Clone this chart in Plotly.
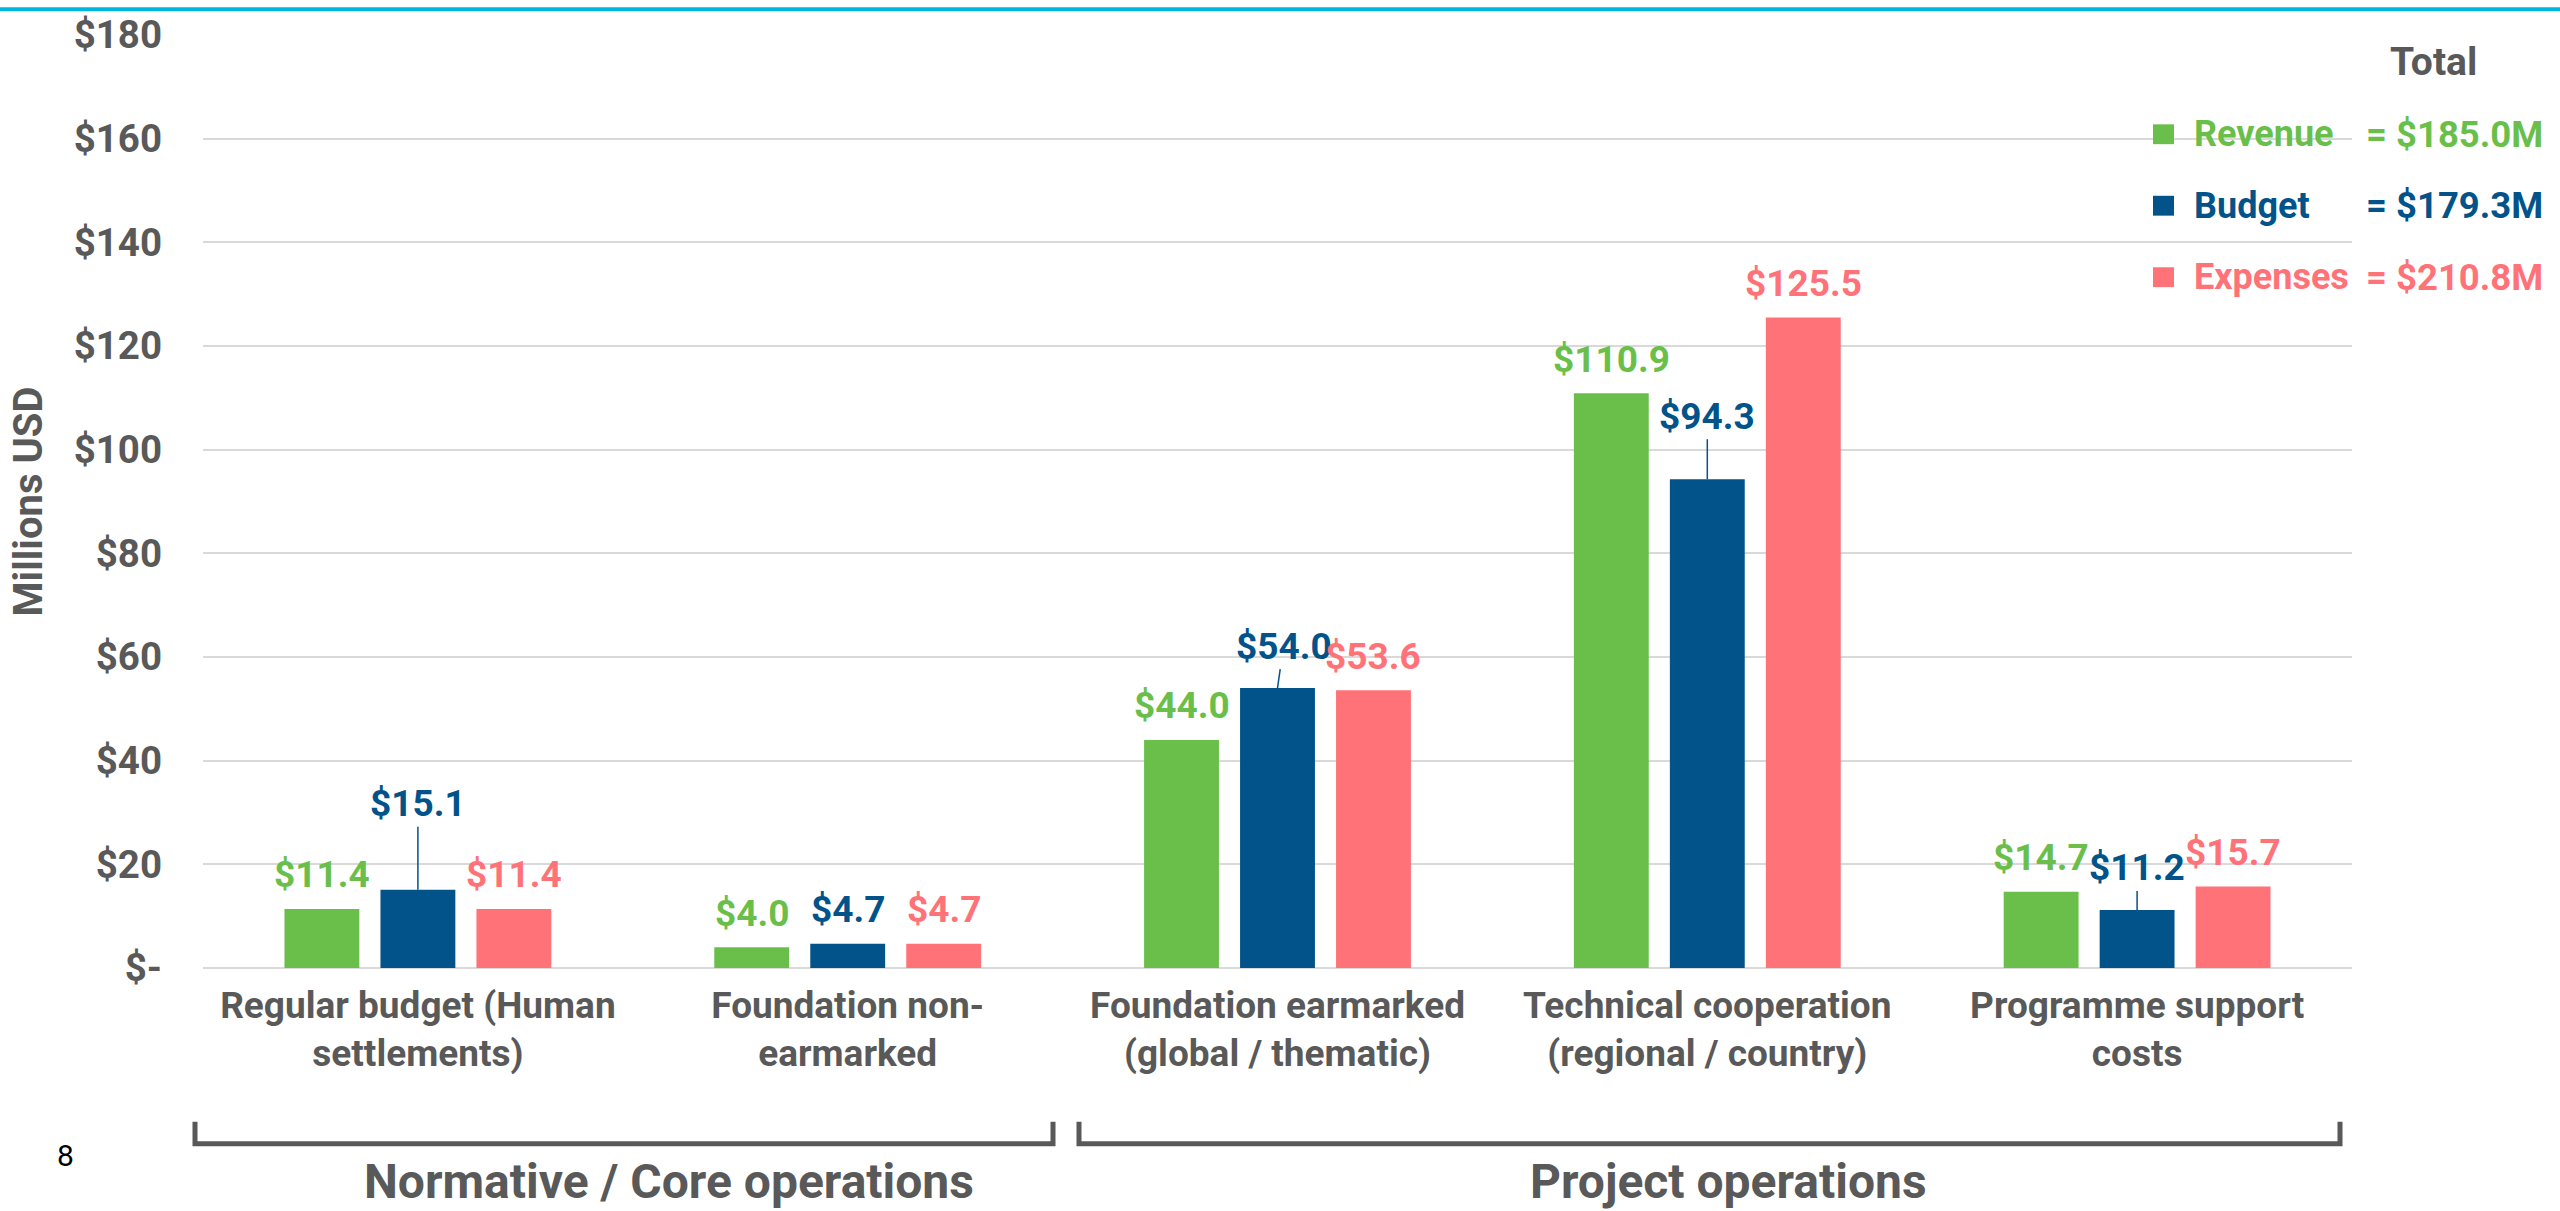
import plotly.graph_objects as go

categories = [
    "Regular budget (Human<br>settlements)",
    "Foundation non-<br>earmarked",
    "Foundation earmarked<br>(global / thematic)",
    "Technical cooperation<br>(regional / country)",
    "Programme support<br>costs",
]
revenue = [11.4, 4.0, 44.0, 110.9, 14.7]
budget = [15.1, 4.7, 54.0, 94.3, 11.2]
expenses = [11.4, 4.7, 53.6, 125.5, 15.7]

series_names = ["Revenue", "Budget", "Expenses"]
series_totals = ["= $185.0M", "= $179.3M", "= $210.8M"]
group_names = ["Normative / Core operations", "Project operations"]

tick_vals = [0, 20, 40, 60, 80, 100, 120, 140, 160, 180]
tick_text = ["$-", "$20", "$40", "$60", "$80", "$100", "$120", "$140", "$160", "$180"]

GREEN = "#6ABF4B"
BLUE = "#02538A"
RED = "#FF7278"
GREY = "#595959"
COLORS = [GREEN, BLUE, RED]
FONT = "Roboto"

W, H = 2560, 1211
L, R, T, B = 203, 2352, 28, 968
BARGAP = 0.33


def px(x):
    return (x - L) / (R - L)


def py(y):
    return (B - y) / (B - T)


fig = go.Figure()
all_values = [revenue, budget, expenses]
for name, values, color in zip(series_names, all_values, COLORS):
    fig.add_trace(go.Bar(x=categories, y=values, name=name, marker={"color": color, "line": {"width": 0}}))

# value labels; budget labels sit higher with a leader line on some bars
leader_lift = [-86, 0, -42, -63, -42]
leader_dx = [0, 0, 6, 0, 0]
slot = (1 - BARGAP) / 3
annotations = []
for j, (values, color) in enumerate(zip(all_values, COLORS)):
    for i, v in enumerate(values):
        xpos = i + (j - 1) * slot
        label = f"${v:.1f}"
        if j == 1 and leader_lift[i] != 0:
            annotations.append(dict(
                x=xpos, y=v, xref="x", yref="y", text=label, showarrow=True,
                arrowhead=0, arrowwidth=1.5, arrowcolor=color, standoff=0,
                ax=leader_dx[i], ay=leader_lift[i],
                font={"family": FONT, "size": 37, "color": color, "weight": 700},
            ))
        else:
            annotations.append(dict(
                x=xpos, y=v, xref="x", yref="y", text=label, showarrow=False,
                yanchor="middle", yshift=34,
                font={"family": FONT, "size": 37, "color": color, "weight": 700},
            ))

# legend block with totals
annotations.append(dict(
    x=px(2433), y=py(55), xref="paper", yref="paper", text="Total", showarrow=False,
    xanchor="center", yanchor="middle", font={"family": FONT, "size": 39, "color": GREY, "weight": 700},
))
shapes = []
for k, (name, total, color) in enumerate(zip(series_names, series_totals, COLORS)):
    yc = 128 + 72 * k
    shapes.append(dict(type="rect", xref="paper", yref="paper", x0=px(2153), x1=px(2174),
                       y0=py(yc + 10), y1=py(yc - 10), fillcolor=color, line={"width": 0}))
    annotations.append(dict(
        x=px(2192), y=py(yc), xref="paper", yref="paper", text=name, showarrow=False,
        xanchor="left", yanchor="middle", font={"family": FONT, "size": 36, "color": color, "weight": 700},
    ))
    annotations.append(dict(
        x=px(2545), y=py(yc), xref="paper", yref="paper", text=total, showarrow=False,
        xanchor="right", yanchor="middle", font={"family": FONT, "size": 36.5, "color": color, "weight": 700},
    ))

# group brackets under the categories
brackets = [(195, 1053), (1079, 2340)]
group_centres = [669, 1728]
for (x0, x1), centre, label in zip(brackets, group_centres, group_names):
    shapes.append(dict(
        type="path", xref="paper", yref="paper",
        path=f"M {px(x0)},{py(1123)} L {px(x0)},{py(1145)} L {px(x1)},{py(1145)} L {px(x1)},{py(1123)}",
        line={"color": GREY, "width": 5},
    ))
    annotations.append(dict(
        x=px(centre), y=py(1183), xref="paper", yref="paper", text=label, showarrow=False,
        xanchor="center", yanchor="middle", font={"family": FONT, "size": 48, "color": GREY, "weight": 700},
    ))

# slide page number and header rule
annotations.append(dict(
    x=px(65), y=py(1157), xref="paper", yref="paper", text="8", showarrow=False,
    xanchor="center", yanchor="middle", font={"family": FONT, "size": 30, "color": "#000000"},
))
shapes.append(dict(type="rect", xref="paper", yref="paper", x0=px(0), x1=px(W),
                   y0=py(4), y1=py(0), fillcolor="#00B4E0", line={"width": 0}))

fig.update_layout(
    width=W,
    height=H,
    barmode="group",
    bargap=BARGAP,
    bargroupgap=0.22,
    showlegend=False,
    plot_bgcolor="white",
    paper_bgcolor="white",
    margin={"l": L, "r": W - R, "t": T, "b": H - B},
    annotations=annotations,
    shapes=shapes,
    font={"family": FONT, "color": GREY},
)
fig.update_yaxes(
    range=[0, 180],
    tickvals=tick_vals,
    ticktext=tick_text,
    showgrid=True,
    gridcolor="#D9D9D9",
    gridwidth=2,
    zeroline=True,
    zerolinecolor="#D9D9D9",
    zerolinewidth=2,
    ticklabelstandoff=40,
    tickfont={"family": FONT, "size": 38.5, "color": GREY, "weight": 700},
    title={"text": "Millions USD", "standoff": 18,
           "font": {"family": FONT, "size": 40, "color": GREY, "weight": 700}},
)
fig.update_xaxes(
    showgrid=False,
    showline=False,
    ticklabelstandoff=12,
    tickfont={"family": FONT, "size": 37, "color": GREY, "weight": 700},
)

# drop the browser's default page margin so the figure sits at the window origin
fig.write_html(
    "out.html",
    config={"displayModeBar": False},
    post_script="document.body.style.margin = '0';",
)
